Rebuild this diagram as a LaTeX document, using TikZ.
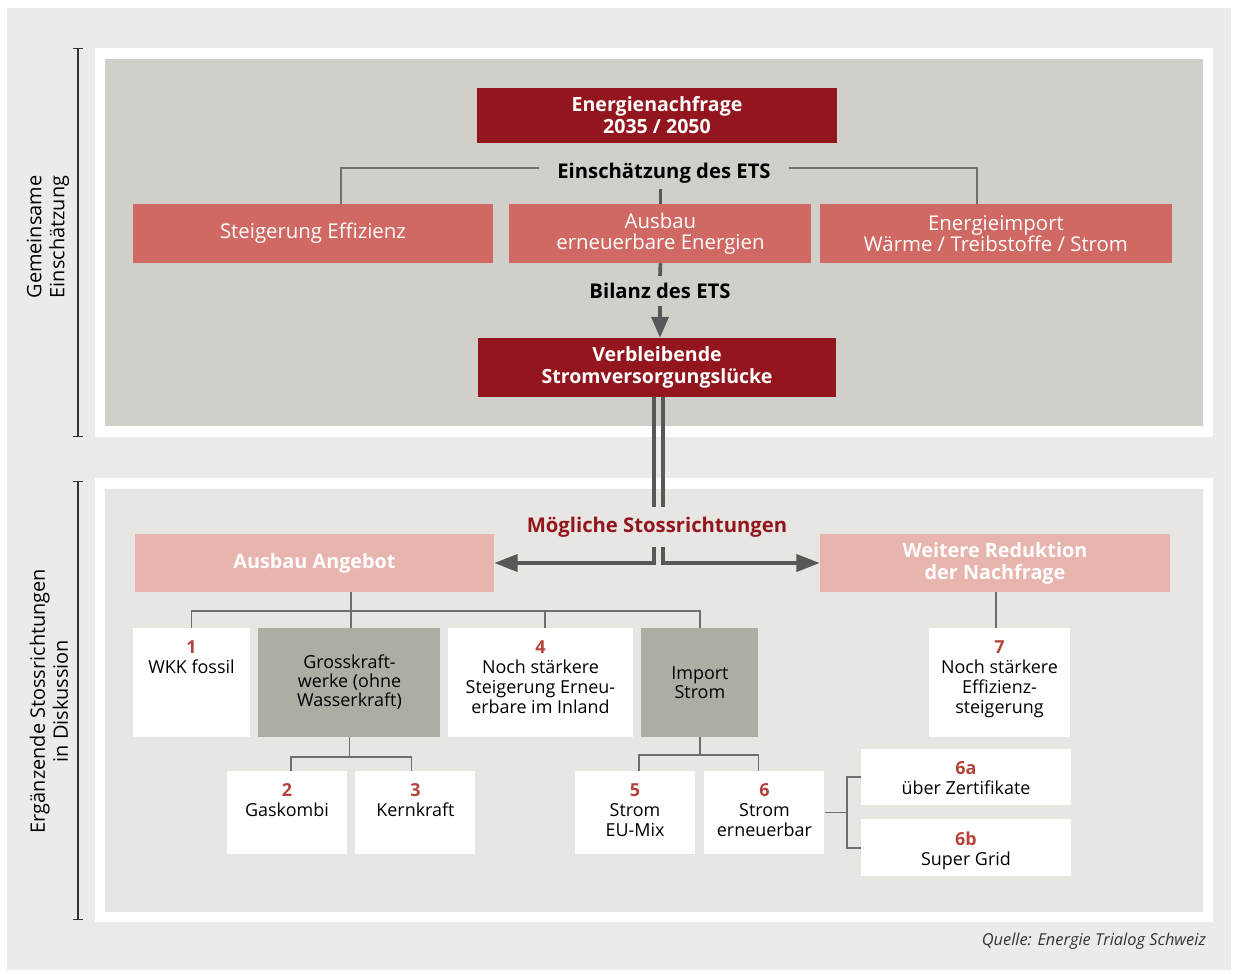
\documentclass[tikz,border=0pt]{standalone}
\usepackage{fontspec}
\setmainfont{Open Sans}
\usetikzlibrary{positioning,arrows.meta}

\definecolor{bgout}{HTML}{EBECEA}
\definecolor{topgray}{HTML}{D0CFCA}
\definecolor{botgray}{HTML}{E7E6E2}
\definecolor{darkred}{HTML}{93161E}
\definecolor{midred}{HTML}{D06964}
\definecolor{pinkbox}{HTML}{E8B4AE}
\definecolor{grpgray}{HTML}{AFACA4}
\definecolor{numred}{HTML}{B3433B}
\definecolor{conngray}{HTML}{58585A}
\definecolor{treegray}{HTML}{6E6E6E}

\newcommand\nr[1]{{\color{numred}\bfseries #1}}

\begin{document}
\begin{tikzpicture}[x=0.3mm,y=-0.3mm,
  box/.style={inner sep=0pt,align=center},
  dark/.style={box,fill=darkred,text=white,font=\bfseries\fontsize{16.7}{18.8}\selectfont},
  mid/.style={box,fill=midred,text=white,font=\fontsize{17.4}{17.9}\selectfont},
  soft/.style={box,fill=pinkbox,text=white,font=\bfseries\fontsize{16.9}{18.8}\selectfont},
  grp/.style={box,fill=grpgray,font=\fontsize{15.3}{16.2}\selectfont},
  leaf/.style={box,fill=white},
  leaftxt/.style={anchor=north,align=center,inner sep=0pt,yshift=-3.85mm,font=\fontsize{15.3}{17}\selectfont},
  lbl/.style={font=\bfseries\fontsize{17.3}{19}\selectfont,inner xsep=5.1mm,inner ysep=1.8mm},
  conn/.style={draw=conngray,line width=1.1mm},
  tree/.style={draw=treegray,line width=0.5mm},
  brk/.style={draw=black!80,line width=0.35mm,{Bar[width=3mm]}-{Bar[width=3mm]}},
  side/.style={rotate=90,align=center,font=\fontsize{17}{19.6}\selectfont}
]
\useasboundingbox (0,0) rectangle (1238,973);

% panels
\fill[white] (0,0) rectangle (1238,973);
\fill[bgout] (7,8) rectangle (1231,970);
\fill[white] (95,48) rectangle (1213,437);
\fill[topgray] (105,59) rectangle (1203,426);
\fill[white] (95,478) rectangle (1213,922);
\fill[botgray] (105,489) rectangle (1203,912);

% side labels
\draw[brk] (78,48) -- (78,437);
\draw[brk] (78,481) -- (78,920);
\node[side] (gem) at (48,237) {Gemeinsame\\Einschätzung};
\node[side] (erg) at (49,701) {Ergänzende Stossrichtungen\\in Diskussion};

% upper part
\node[dark,minimum width=108mm,minimum height=16.5mm] (nachfrage) at (657,115.5) {Energienachfrage\\2035 / 2050};
\node[lbl,inner xsep=5.4mm] (ets) at (664,173) {Einschätzung des ETS};
\node[mid,minimum width=108mm,minimum height=17.7mm] (eff) at (313,233.5) {Steigerung Effizienz};
\node[mid,minimum width=90.6mm,minimum height=17.7mm,right=4.8mm of eff] (ausbau) {Ausbau\\erneuerbare Energien};
\node[mid,minimum width=105.6mm,minimum height=17.7mm,right=2.4mm of ausbau] (enimp) {Energieimport\\Wärme / Treibstoffe / Strom};
\node[lbl,inner ysep=2.1mm] (bilanz) at (660,291) {Bilanz des ETS};
\node[dark,minimum width=107.4mm,minimum height=17.7mm] (luecke) at (657,367.5) {Verbleibende\\Stromversorgungslücke};

\draw[tree] ([yshift=1.5mm]ets.west) -| ([xshift=8.4mm]eff.north);
\draw[tree] ([yshift=1.5mm]ets.east) -| ([xshift=-5.7mm]enimp.north);
\draw[conn] (ausbau.north) -- (ausbau.north |- ets.south);
\draw[conn] (ausbau.south) -- (bilanz.north);
\draw[conn,-{Triangle[length=6.3mm,width=5.1mm]}] (bilanz.south) -- (bilanz.south |- luecke.north);

% lower part
\node[lbl,text=darkred,inner ysep=3mm] (moeglich) at (657,527) {Mögliche Stossrichtungen};
\node[soft,minimum width=107.7mm,minimum height=17.4mm] (angebot) at (314.5,563) {Ausbau Angebot};
\node[soft,minimum width=105mm,minimum height=17.4mm] (reduktion) at (995,563) {Weitere Reduktion\\der Nachfrage};

\draw[conn] ([xshift=-0.9mm]luecke.south) -- ([xshift=-0.9mm]moeglich.north);
\draw[conn] ([xshift=1.8mm]luecke.south) -- ([xshift=1.8mm]moeglich.north);
\draw[conn,-{Triangle[length=7mm,width=5.1mm]}] ([xshift=-0.9mm]moeglich.south) |- (angebot.east);
\draw[conn,-{Triangle[length=7mm,width=5.1mm]}] ([xshift=1.8mm]moeglich.south) |- (reduktion.west);

\node[leaf,minimum width=35.1mm,minimum height=32.7mm,
  label={[leaftxt]north:{\nr{1}\\WKK fossil}}] (n1) at (191.5,682.5) {};
\node[grp,minimum width=54.6mm,minimum height=32.7mm,right=2.4mm of n1] (gross) {Grosskraft-\\werke (ohne\\Wasserkraft)};
\node[leaf,minimum width=55.5mm,minimum height=32.7mm,right=2.1mm of gross,
  label={[leaftxt]north:{\nr{4}\\Noch stärkere\\Steigerung Erneu-\\erbare im Inland}}] (n4) {};
\node[grp,minimum width=35.1mm,minimum height=32.7mm,right=2.4mm of n4] (imp) {Import\\Strom};
\node[leaf,minimum width=42.3mm,minimum height=32.7mm,
  label={[leaftxt]north:{\nr{7}\\Noch stärkere\\Effizienz-\\steigerung}}] (n7) at (999.5,682.5) {};

\node[leaf,minimum width=36mm,minimum height=24.9mm,
  label={[leaftxt]north:{\nr{2}\\Gaskombi}}] (n2) at (287,812.5) {};
\node[leaf,minimum width=36mm,minimum height=24.9mm,right=2.4mm of n2,
  label={[leaftxt]north:{\nr{3}\\Kernkraft}}] (n3) {};
\node[leaf,minimum width=36mm,minimum height=24.9mm,
  label={[leaftxt]north:{\nr{5}\\Strom\\EU-Mix}}] (n5) at (635,812.5) {};
\node[leaf,minimum width=36mm,minimum height=24.9mm,right=2.7mm of n5,
  label={[leaftxt]north:{\nr{6}\\Strom\\erneuerbar}}] (n6) {};
\node[leaf,minimum width=63mm,minimum height=16.8mm,
  label={[leaftxt]north:{\nr{6a}\\über Zertifikate}}] (n6a) at (966,777) {};
\node[leaf,minimum width=63mm,minimum height=17.1mm,below=4.2mm of n6a,
  label={[leaftxt]north:{\nr{6b}\\Super Grid}}] (n6b) {};

% tree lines
\coordinate (bus) at (351,611);
\path (gross.south) ++(0,20) coordinate (gbus);
\path (imp.south) ++(0,18) coordinate (ibus);
\path (n6.east) ++(22,0) coordinate (sbus);
\draw[tree] (angebot.south -| bus) -- (gross.north -| bus);
\draw[tree] (n1.north) |- (bus) -| (imp.north);
\draw[tree] ([xshift=1.3mm]n4.north) -- ([xshift=1.3mm]n4.north |- bus);
\draw[tree] (gross.south) -- (gbus);
\draw[tree] ([xshift=1.2mm]n2.north) |- (gbus) -| ([xshift=-1.2mm]n3.north);
\draw[tree] (imp.south) -- (ibus);
\draw[tree] ([xshift=1.2mm]n5.north) |- (ibus) -| ([xshift=-1.8mm]n6.north);
\draw[tree] (n6.east) -- (sbus);
\draw[tree] (n6a.west) -| (sbus) |- (n6b.west);
\draw[tree] ([xshift=0.3mm]reduktion.south) -- ([xshift=0.3mm]reduktion.south |- n7.north);

\node[anchor=east,font=\itshape\fontsize{14}{16}\selectfont,text=black!80] (quelle) at (1210,941) {Quelle: Energie Trialog Schweiz};
\end{tikzpicture}
\end{document}
